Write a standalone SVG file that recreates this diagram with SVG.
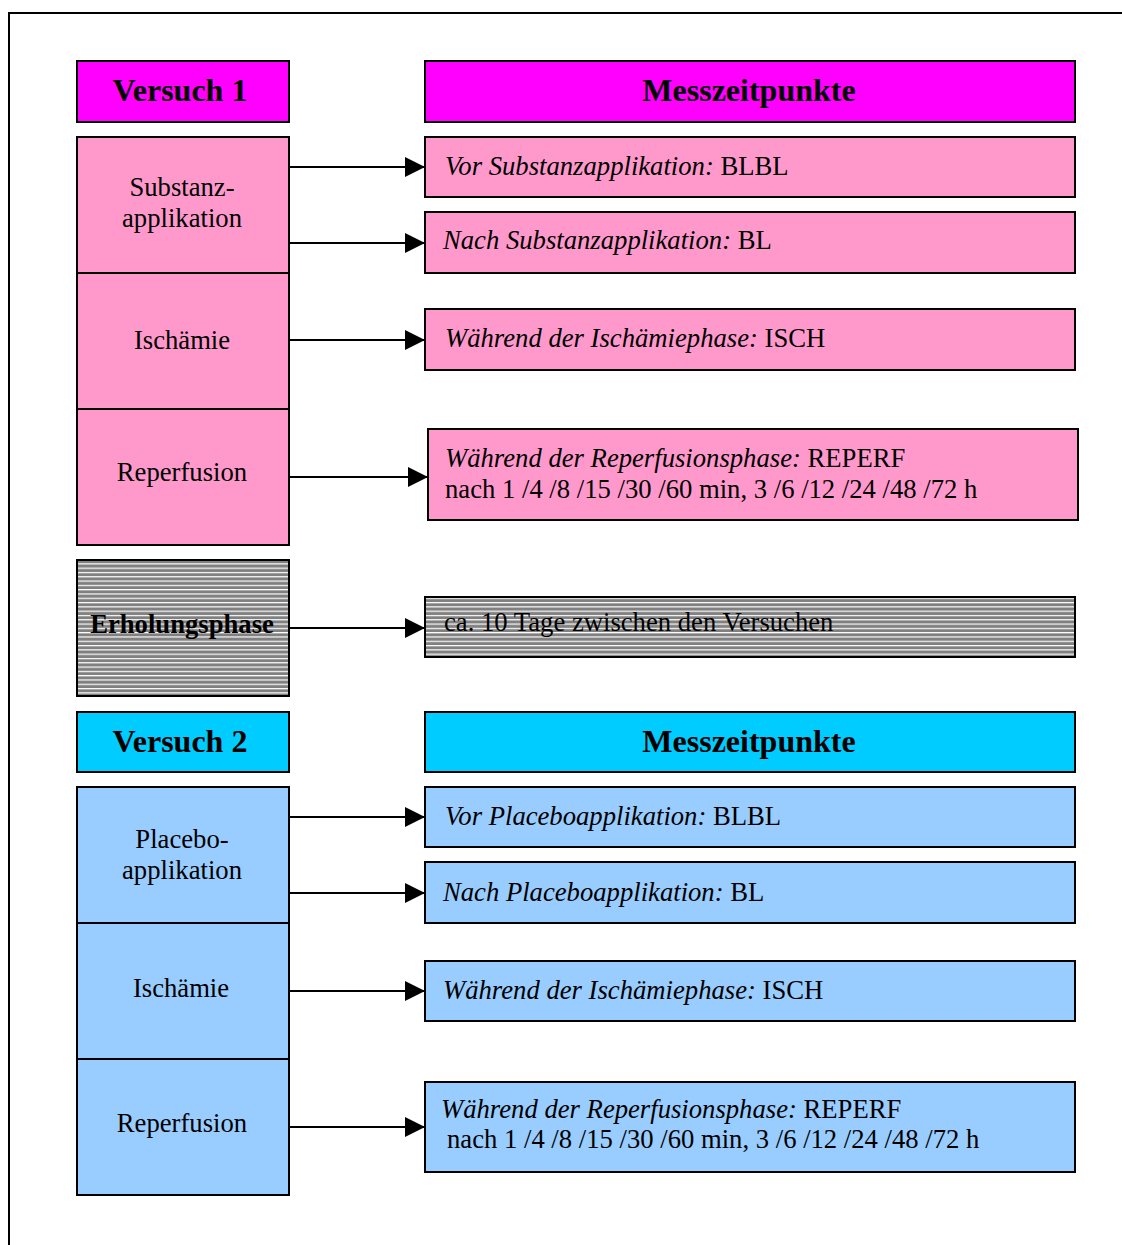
<svg xmlns="http://www.w3.org/2000/svg" width="1122" height="1245" viewBox="0 0 1122 1245">
<defs>
<pattern id="hatch" patternUnits="userSpaceOnUse" width="8" height="4.3">
<rect width="8" height="4.3" fill="#808080"/>
<rect y="0" width="8" height="1.2" fill="#ffffff"/>
</pattern>
<marker id="arr" markerWidth="20" markerHeight="20" refX="20" refY="10" orient="auto" markerUnits="userSpaceOnUse">
<path d="M0,0 L20,10 L0,20 Z" fill="#000"/>
</marker>
<style>
rect.b{stroke:#000;stroke-width:2}
text{font-family:"Liberation Serif","Times New Roman",serif;font-size:26.67px;fill:#000}
.h{font-size:32px;font-weight:bold}
.c{text-anchor:middle}
.i{font-style:italic}
.m1{fill:#FF00FF}.p1{fill:#FF99CC}.m2{fill:#00CCFF}.p2{fill:#99CCFF}.g{fill:url(#hatch)}
line.a{stroke:#000;stroke-width:2;marker-end:url(#arr)}
</style>
</defs>
<rect width="1122" height="1245" fill="#fff"/>
<path d="M9,1245 V13 H1122" fill="none" stroke="#000" stroke-width="2"/>

<g id="versuch1"><rect class="b m1" x="77" y="61" width="212" height="61"/><text class="h c" x="180" y="101">Versuch 1</text></g>
<g id="mess1"><rect class="b m1" x="425" y="61" width="650" height="61"/><text class="h c" x="749" y="101">Messzeitpunkte</text></g>
<g id="substanz"><rect class="b p1" x="77" y="137" width="212" height="136"/><text class="c" x="182" y="196">Substanz-</text><text class="c" x="182" y="227">applikation</text></g>
<g id="isch1"><rect class="b p1" x="77" y="273" width="212" height="136"/><text class="c" x="182" y="349">Ischämie</text></g>
<g id="reperf1"><rect class="b p1" x="77" y="409" width="212" height="136"/><text class="c" x="182" y="481">Reperfusion</text></g>
<g id="vor1"><rect class="b p1" x="425" y="137" width="650" height="60"/><text x="445" y="175"><tspan class="i">Vor Substanzapplikation:</tspan> BLBL</text></g>
<g id="nach1"><rect class="b p1" x="425" y="212" width="650" height="61"/><text x="443" y="249"><tspan class="i">Nach Substanzapplikation:</tspan> BL</text></g>
<g id="wisch1"><rect class="b p1" x="425" y="309" width="650" height="61"/><text x="445" y="347"><tspan class="i">Während der Ischämiephase:</tspan> ISCH</text></g>
<g id="wrep1"><rect class="b p1" x="428" y="429" width="650" height="91"/><text x="445" y="467"><tspan class="i">Während der Reperfusionsphase:</tspan> REPERF</text><text x="445" y="498">nach 1 /4 /8 /15 /30 /60 min, 3 /6 /12 /24 /48 /72 h</text></g>

<g id="erholung"><rect class="b g" x="77" y="560" width="212" height="136"/><text class="h c" x="182" y="633" style="font-size:26.67px">Erholungsphase</text></g>
<g id="tage"><rect class="b g" x="425" y="597" width="650" height="60"/><text x="444" y="631">ca. 10 Tage zwischen den Versuchen</text></g>

<g id="versuch2"><rect class="b m2" x="77" y="712" width="212" height="60"/><text class="h c" x="180" y="752">Versuch 2</text></g>
<g id="mess2"><rect class="b m2" x="425" y="712" width="650" height="60"/><text class="h c" x="749" y="752">Messzeitpunkte</text></g>
<g id="placebo"><rect class="b p2" x="77" y="787" width="212" height="136"/><text class="c" x="182" y="848">Placebo-</text><text class="c" x="182" y="879">applikation</text></g>
<g id="isch2"><rect class="b p2" x="77" y="923" width="212" height="136"/><text class="c" x="181" y="997">Ischämie</text></g>
<g id="reperf2"><rect class="b p2" x="77" y="1059" width="212" height="136"/><text class="c" x="182" y="1132">Reperfusion</text></g>
<g id="vor2"><rect class="b p2" x="425" y="787" width="650" height="60"/><text x="445" y="825"><tspan class="i">Vor Placeboapplikation:</tspan> BLBL</text></g>
<g id="nach2"><rect class="b p2" x="425" y="862" width="650" height="61"/><text x="443" y="901"><tspan class="i">Nach Placeboapplikation:</tspan> BL</text></g>
<g id="wisch2"><rect class="b p2" x="425" y="961" width="650" height="60"/><text x="443" y="999"><tspan class="i">Während der Ischämiephase:</tspan> ISCH</text></g>
<g id="wrep2"><rect class="b p2" x="425" y="1082" width="650" height="90"/><text x="441" y="1118"><tspan class="i">Während der Reperfusionsphase:</tspan> REPERF</text><text x="447" y="1148">nach 1 /4 /8 /15 /30 /60 min, 3 /6 /12 /24 /48 /72 h</text></g>

<g id="connectors">
<line class="a" x1="289" y1="167" x2="425" y2="167"/>
<line class="a" x1="289" y1="243" x2="425" y2="243"/>
<line class="a" x1="289" y1="340" x2="425" y2="340"/>
<line class="a" x1="289" y1="477" x2="428" y2="477"/>
<line class="a" x1="289" y1="628" x2="425" y2="628"/>
<line class="a" x1="289" y1="817" x2="425" y2="817"/>
<line class="a" x1="289" y1="893" x2="425" y2="893"/>
<line class="a" x1="289" y1="991" x2="425" y2="991"/>
<line class="a" x1="289" y1="1127" x2="425" y2="1127"/>
</g>
</svg>
